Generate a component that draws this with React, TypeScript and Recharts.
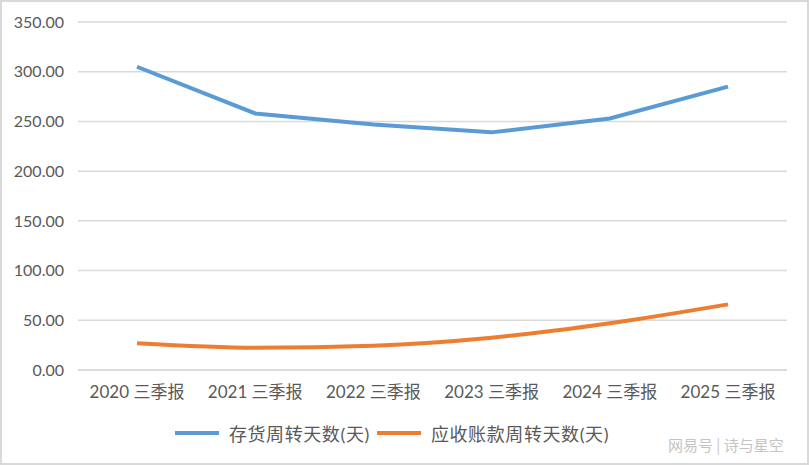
import React from "react";
import { LineChart, Line, XAxis, YAxis, CartesianGrid, Legend } from "recharts";

const periods = ["2020 三季报", "2021 三季报", "2022 三季报", "2023 三季报", "2024 三季报", "2025 三季报"];
const inventoryDays = [305, 258, 247, 239, 253, 285];
const receivableDays = [27, 22.5, 24.5, 32.5, 47, 66];
const yTicks = [0, 50, 100, 150, 200, 250, 300, 350];

const seriesNames = ["存货周转天数(天)", "应收账款周转天数(天)"];
const BLUE = "#5B9BD5";
const ORANGE = "#ED7D31";
const FONT = "Lato, 'Noto Sans CJK SC', sans-serif";

const data = periods.map((p, i) => ({
  period: p,
  inventory: inventoryDays[i],
  receivable: receivableDays[i],
}));

function LegendContent() {
  const items = [
    { name: seriesNames[0], color: BLUE },
    { name: seriesNames[1], color: ORANGE },
  ];
  return (
    <div style={{ display: "flex", justifyContent: "center", alignItems: "center", paddingLeft: 4 }}>
      {items.map((it) => (
        <div key={it.name} style={{ display: "flex", alignItems: "center", marginRight: 7 }}>
          <span style={{ display: "inline-block", width: 44, height: 4, background: it.color, marginRight: 10 }} />
          <span style={{ fontFamily: FONT, fontSize: 18, letterSpacing: 0.6, color: "#595959" }}>{it.name}</span>
        </div>
      ))}
    </div>
  );
}

export default function App() {
  return (
    <div style={{ position: "fixed", left: 0, top: 0, width: 809, height: 465, background: "#fff" }}>
      <LineChart width={809} height={465} data={data} margin={{ top: 22, right: 22, left: 0, bottom: 0 }}>
        <CartesianGrid vertical={false} stroke="#d9d9d9" strokeWidth={1.5} />
        <XAxis
          dataKey="period"
          axisLine={{ stroke: "#d9d9d9", strokeWidth: 1.5 }}
          tickLine={false}
          height={50}
          tickMargin={10}
          padding={{ left: 59, right: 59 }}
          interval={0}
          tick={{ fill: "#595959", fontSize: 17, fontFamily: FONT }}
        />
        <YAxis
          width={78}
          domain={[0, 350]}
          ticks={yTicks}
          axisLine={false}
          tickLine={false}
          tickMargin={8}
          tickFormatter={(v: number) => v.toFixed(2)}
          tick={{ fill: "#595959", fontSize: 16, fontFamily: FONT }}
        />
        <Legend verticalAlign="bottom" content={LegendContent} wrapperStyle={{ height: 45 }} />
        <Line
          type="linear"
          dataKey="inventory"
          name={seriesNames[0]}
          stroke={BLUE}
          strokeWidth={4}
          dot={false}
          isAnimationActive={false}
        />
        <Line
          type="monotone"
          dataKey="receivable"
          name={seriesNames[1]}
          stroke={ORANGE}
          strokeWidth={4}
          dot={false}
          isAnimationActive={false}
        />
      </LineChart>
      <div
        style={{
          position: "absolute",
          left: 668,
          top: 434,
          fontFamily: "'Noto Sans CJK SC', sans-serif",
          fontSize: 15,
          color: "#c4c4c4",
          whiteSpace: "nowrap",
        }}
      >
        网易号 | 诗与星空
      </div>
      <div
        style={{
          position: "absolute",
          inset: 0,
          border: "2px solid #d9d9d9",
          boxSizing: "border-box",
          pointerEvents: "none",
        }}
      />
    </div>
  );
}
